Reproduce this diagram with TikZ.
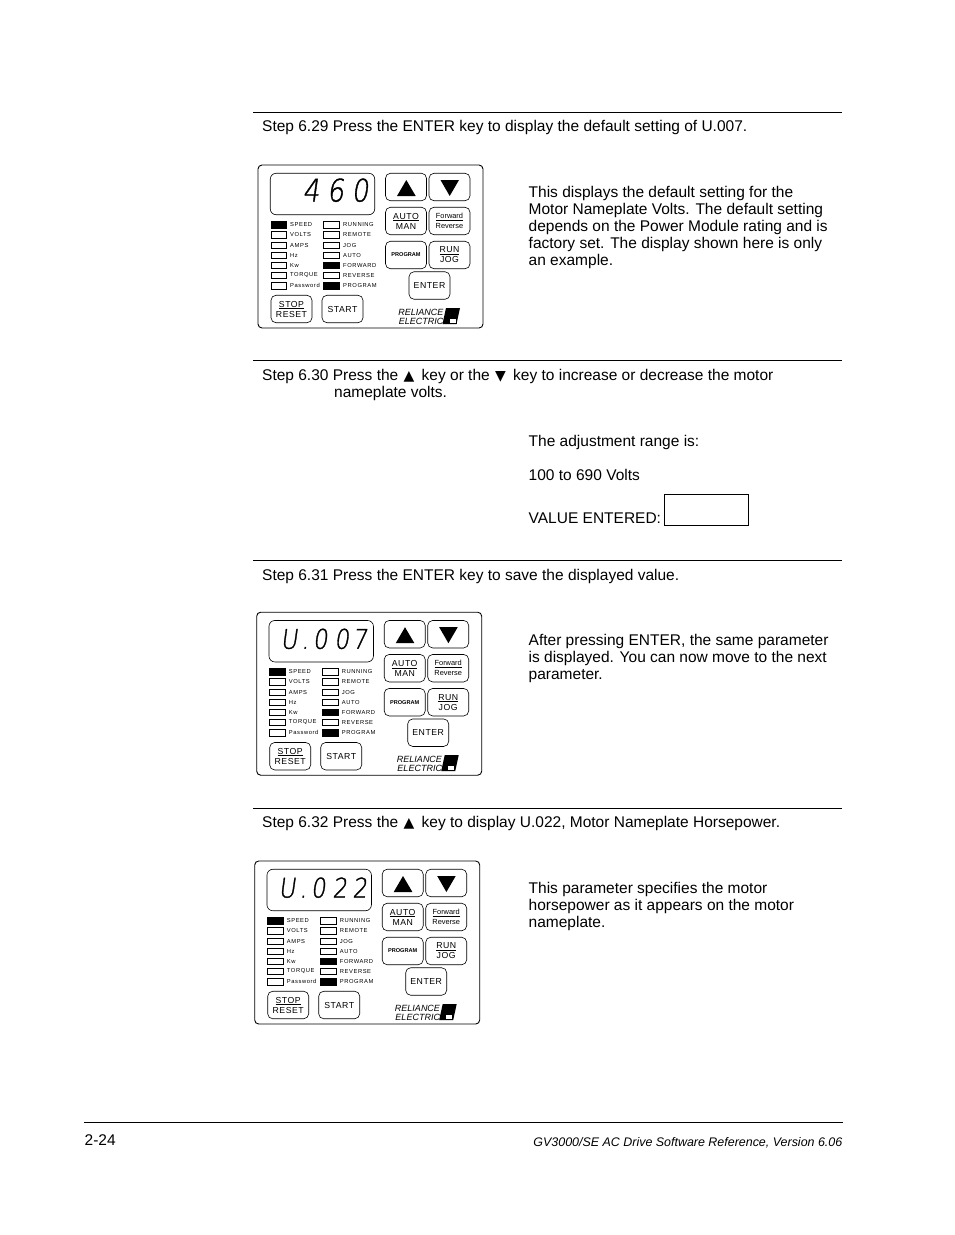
\documentclass[tikz,border=0pt]{standalone}
\usepackage{fontspec}
\setmainfont{Liberation Sans}
\newfontfamily\symfont{DejaVu Sans}
\newfontfamily\ledfont[LetterSpace=10]{Liberation Sans}
\newfontfamily\keyfont[LetterSpace=6]{Liberation Sans}
\newfontfamily\segfont[FakeSlant=0.14,FakeStretch=0.85,FakeBold=1.2]{DejaVu Sans ExtraLight}
\newcommand{\uptri}{\hspace{1pt}{\symfont\fontsize{14}{14}\selectfont ▲}\hspace{3pt}}
\newcommand{\downtri}{\hspace{1pt}{\symfont\fontsize{14}{14}\selectfont ▼}\hspace{3pt}}

\tikzset{
  bodytext/.style={anchor=north west,inner sep=0pt,align=left,font=\fontsize{15.5}{17}\selectfont},
  steprule/.style={line width=0.7pt},
  keybox/.style={draw,line width=0.6pt,rounded corners=5pt,minimum width=41pt,minimum height=27.5pt,inner sep=0pt,align=center,font=\fontsize{8.7}{10}\keyfont},
  ledoff/.style={draw,line width=0.5pt,minimum width=15.5pt,minimum height=6.5pt,inner sep=0pt},
  ledon/.style={ledoff,fill=black},
  ledlabel/.style={anchor=west,inner sep=0pt,font=\fontsize{5.8}{6}\ledfont},
  segdigit/.style={anchor=base,inner sep=0pt}
}

% one keypad, #1 name, #2 x, #3 y, #4 display digits, #5 digit size
\newcommand{\drivepanel}[5]{
\begin{scope}[shift={(#2,#3)},name prefix=#1-]
\node[draw,line width=0.9pt,rounded corners=4pt,minimum width=225pt,minimum height=163pt,inner sep=0pt] (case) at (112.5,81.5) {};
\node[draw,line width=0.6pt,rounded corners=6pt,minimum width=104.5pt,minimum height=41.5pt,inner sep=0pt] (display) at (64.5,29) {};
\foreach \x/\d [count=\i] in {#4}
   \node[segdigit,font=\fontsize{#5}{#5}\segfont] (digit\i) at (\x,36.5) {\d};
\node[keybox] (up) at (148,22) {};
\node[keybox] (down) at (191.5,22) {};
\fill (139,31) -- (148.3,15) -- (157.7,31) -- cycle;
\fill (182.5,15) -- (201,15) -- (191.7,31) -- cycle;
\node[keybox] (auto) at (148,56) {\underline{AUTO}\\MAN};
\node[keybox,font=\fontsize{7.4}{10}\selectfont] (forward) at (191.5,56) {\underline{Forward}\\Reverse};
\node[keybox,font=\fontsize{5.6}{6}\selectfont\bfseries] (program) at (148,90) {PROGRAM};
\node[keybox] (run) at (191.5,90) {\underline{RUN}\\JOG};
\node[keybox] (enter) at (171.5,120.5) {ENTER};
\node[keybox] (stop) at (33.5,144) {\underline{STOP}\\RESET};
\node[keybox] (start) at (84.5,144) {START};
\foreach \y/\t/\s [count=\i] in {59.7/SPEED/ledon,69.7/VOLTS/ledoff,80/AMPS/ledoff,90/Hz/ledoff,100/Kw/ledoff,110/TORQUE/ledoff,120.7/Password/ledoff}
   {\node[\s] (ledl\i) at (20.7,\y) {};
    \node[ledlabel] (labl\i) at (32,\y) {\t};}
\foreach \y/\t/\s [count=\i] in {59.7/RUNNING/ledoff,69.7/REMOTE/ledoff,80/JOG/ledoff,90/AUTO/ledoff,100/FORWARD/ledon,110/REVERSE/ledoff,120.7/PROGRAM/ledon}
   {\node[\s] (ledr\i) at (73.3,\y) {};
    \node[ledlabel] (labr\i) at (85,\y) {\t};}
\node[anchor=east,inner sep=0pt,align=right,font=\fontsize{9}{9}\selectfont\itshape] (brand) at (185.5,152) {RELIANCE\\ELECTRIC};
\fill (188,143) -- (202,143) -- (198.5,159) -- (184.5,159) -- cycle;
\filldraw[fill=white,line width=0.5pt] (191,153) rectangle (198,158);
\end{scope}
}

\begin{document}
\begin{tikzpicture}[x=1pt,y=-1pt]
\useasboundingbox (0,0) rectangle (954,1235);
\foreach \y/\n in {112.5/a,360.5/b,560.5/c,808.5/d}
   {\coordinate (rule\n l) at (253,\y);
    \coordinate (rule\n r) at (842,\y);
    \draw[steprule] (rule\n l) -- (rule\n r);}
\coordinate (footl) at (84,1122);
\coordinate (footr) at (843,1122);
\draw[steprule] (footl) -- (footr);

\node[bodytext] (step29) at (262,120) {Step 6.29 Press the ENTER key to display the default setting of U.007.};
\node[bodytext] (text29) at (528.5,186.5) {This displays the default setting for the\\Motor Nameplate Volts. The default setting\\depends on the Power Module rating and is\\factory set. The display shown here is only\\an example.};
\node[bodytext] (step30) at (262,369.5) {Step 6.30 Press the \uptri{} key or the \downtri{} key to increase or decrease the motor};
\node[bodytext] (step30b) at (334,386.5) {nameplate volts.};
\node[bodytext] (text30a) at (528.5,435.5) {The adjustment range is:};
\node[bodytext] (text30b) at (528.5,469.5) {100 to 690 Volts};
\node[bodytext] (text30c) at (528.5,513) {VALUE ENTERED:};
\node[draw,line width=0.7pt,minimum width=84.5pt,minimum height=31pt,inner sep=0pt] (valuebox) at (706.3,509.5) {};
\node[bodytext] (step31) at (262,569) {Step 6.31 Press the ENTER key to save the displayed value.};
\node[bodytext] (text31) at (528.5,634.5) {After pressing ENTER, the same parameter\\is displayed. You can now move to the next\\parameter.};
\node[bodytext] (step32) at (262,816.5) {Step 6.32 Press the \uptri{} key to display U.022, Motor Nameplate Horsepower.};
\node[bodytext] (text32) at (528.5,882.5) {This parameter specifies the motor\\horsepower as it appears on the motor\\nameplate.};
\node[bodytext] (pagenum) at (84.5,1134.5) {2-24};
\node[anchor=north east,inner sep=0pt,font=\fontsize{12.45}{14}\selectfont\itshape] (doctitle) at (842.5,1137.7) {GV3000/SE AC Drive Software Reference, Version 6.06};

\drivepanel{pa}{258}{165}{53/4,77.5/6,102/0}{31}
\drivepanel{pb}{256.7}{612.2}{32.3/U,48.5/.,63.5/0,85/0,103/7}{27}
\drivepanel{pc}{254.7}{861}{32.3/U,48.5/.,63.5/0,85/2,105/2}{27}
\end{tikzpicture}
\end{document}
